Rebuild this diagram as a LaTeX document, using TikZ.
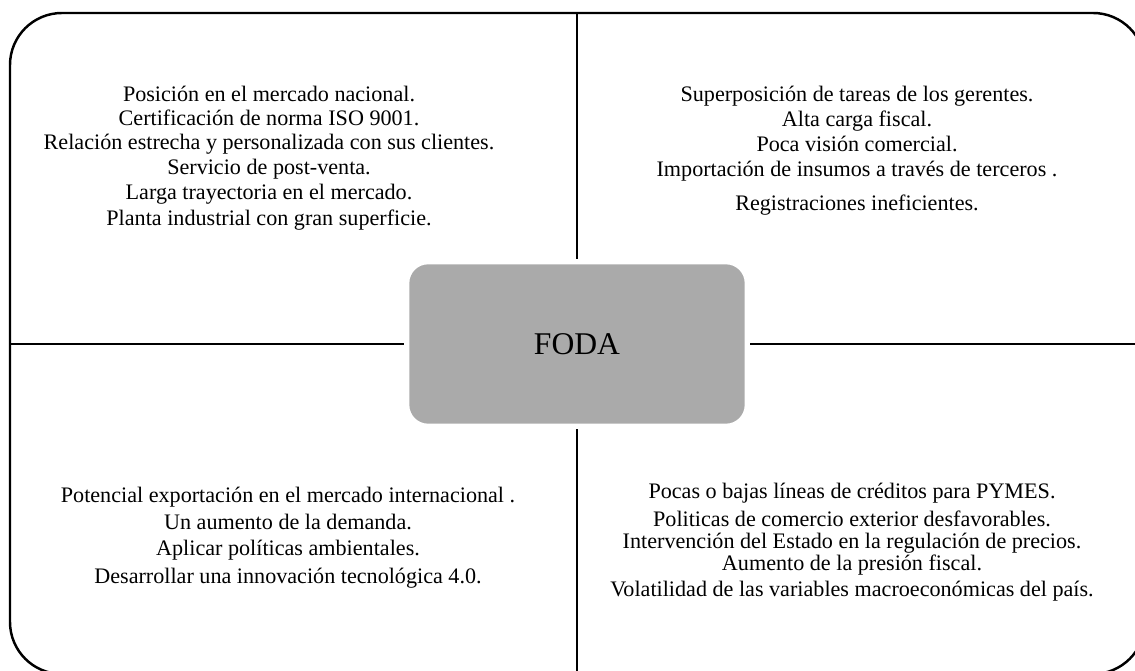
\documentclass[tikz,border=0pt]{standalone}
\usepackage{fontspec}
\setmainfont{Liberation Serif}
\usepackage{xcolor}
\usetikzlibrary{positioning}

\definecolor{fodagray}{RGB}{170,170,170}

\tikzset{
    frame/.style={line width=1.4pt, rounded corners=1.04cm},
    divider/.style={line width=1.4pt, shorten >=0.05cm},
    item/.style={font=\fontsize{12.6}{15}\selectfont, inner sep=0pt, anchor=base},
    fodabox/.style={fill=fodagray, draw=white, line width=1.5pt, rounded corners=0.4cm,
        minimum width=6.76cm, minimum height=3.24cm, font=\fontsize{18}{20}\selectfont}
}

\begin{document}
\begin{tikzpicture}[x=0.02cm, y=-0.02cm]
    \useasboundingbox (0,0) rectangle (1135,671);
    \clip (0,0) rectangle (1135,671);

    % outer frame
    \draw[frame] (10,13) rectangle (1145,674);

    % centre box
    \node[fodabox] (foda) at (577,344) {FODA};

    \coordinate (top) at (577,13);
    \coordinate (bottom) at (577,674);
    \coordinate (left) at (10,344);
    \coordinate (right) at (1145,344);
    \draw[divider] (top) -- (foda);
    \draw[divider] (bottom) -- (foda);
    \draw[divider] (left) -- (foda);
    \draw[divider] (right) -- (foda);

    % fortalezas
    \node[item] (fort1) at (269,102) {Posición en el mercado nacional.};
    \node[item] (fort2) at (269,126) {Certificación de norma ISO 9001.};
    \node[item] (fort3) at (269,150) {Relación estrecha y personalizada con sus clientes.};
    \node[item] (fort4) at (269,175) {Servicio de post-venta.};
    \node[item] (fort5) at (269,200) {Larga trayectoria en el mercado.};
    \node[item] (fort6) at (269,226) {Planta industrial con gran superficie.};

    % debilidades
    \node[item] (debi1) at (857,102) {Superposición de tareas de los gerentes.};
    \node[item] (debi2) at (857,127) {Alta carga fiscal.};
    \node[item] (debi3) at (857,152) {Poca visión comercial.};
    \node[item] (debi4) at (857,177) {Importación de insumos a través de terceros .};
    \node[item] (debi5) at (857,211) {Registraciones ineficientes.};

    % oportunidades
    \node[item] (opor1) at (288,502) {Potencial exportación en el mercado internacional .};
    \node[item] (opor2) at (288,529) {Un aumento de la demanda.};
    \node[item] (opor3) at (288,556) {Aplicar políticas ambientales.};
    \node[item] (opor4) at (288,583) {Desarrollar una innovación tecnológica 4.0.};

    % amenazas
    \node[item] (amen1) at (852,499) {Pocas o bajas líneas de créditos para PYMES.};
    \node[item] (amen2) at (852,526) {Politicas de comercio exterior desfavorables.};
    \node[item] (amen3) at (852,548) {Intervención del Estado en la regulación de precios.};
    \node[item] (amen4) at (852,570) {Aumento de la presión fiscal.};
    \node[item] (amen5) at (852,596) {Volatilidad de las variables macroeconómicas del país.};
\end{tikzpicture}
\end{document}
